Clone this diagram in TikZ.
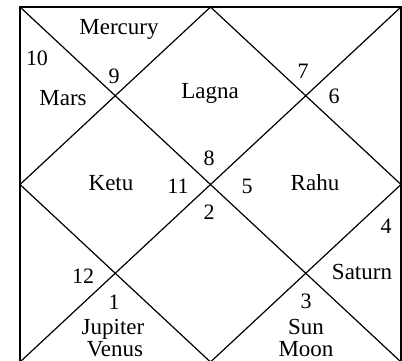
\documentclass[tikz,border=0pt]{standalone}
\usepackage{fontspec}
\setmainfont{Liberation Serif}
\tikzset{
  chartline/.style={line width=1.2pt, line join=miter},
  lbl/.style={anchor=base, inner sep=0pt, font=\fontsize{23}{26}\selectfont},
  num/.style={anchor=base, inner sep=0pt, font=\fontsize{22}{26}\selectfont}
}
\begin{document}
\begin{tikzpicture}[x=1pt,y=-1pt]
\useasboundingbox (0,0) rectangle (402,361);
\fill[white] (0,0) rectangle (402,361);
\begin{scope}
\clip (0,0) rectangle (402,361);
% corners and midpoints
\coordinate (TL) at (20,7);
\coordinate (TR) at (401,7);
\coordinate (BL) at (20,362);
\coordinate (BR) at (401,362);
\coordinate (T) at (210.5,7);
\coordinate (B) at (210.5,362);
\coordinate (L) at (20,184.5);
\coordinate (R) at (401,184.5);
\draw[chartline] (TL) -- (TR) -- (BR) -- (BL) -- cycle;
\draw[chartline] (TL) -- (BR);
\draw[chartline] (TR) -- (BL);
\draw[chartline] (T) -- (R) -- (B) -- (L) -- cycle;
\end{scope}
% labels
\node[lbl] (mercury) at (119,35) {Mercury};
\node[num] (n10) at (37,66) {10};
\node[num] (n9) at (114,84) {9};
\node[lbl] (mars) at (63,106) {Mars};
\node[lbl] (lagna) at (210,99) {Lagna};
\node[num] (n7) at (303,79) {7};
\node[num] (n6) at (334,103) {6};
\node[num] (n8) at (209,165) {8};
\node[lbl] (ketu) at (111,190) {Ketu};
\node[num] (n11) at (178,193) {11};
\node[num] (n5) at (247,193) {5};
\node[lbl] (rahu) at (315,190) {Rahu};
\node[num] (n2) at (209,219) {2};
\node[num] (n4) at (386,233) {4};
\node[lbl] (saturn) at (362,279) {Saturn};
\node[num] (n12) at (83,283) {12};
\node[num] (n1) at (114,309) {1};
\node[lbl] (jupiter) at (113,334) {Jupiter};
\node[lbl] (venus) at (115,356) {Venus};
\node[num] (n3) at (306,308) {3};
\node[lbl] (sun) at (306,334) {Sun};
\node[lbl] (moon) at (306,356) {Moon};
\end{tikzpicture}
\end{document}
